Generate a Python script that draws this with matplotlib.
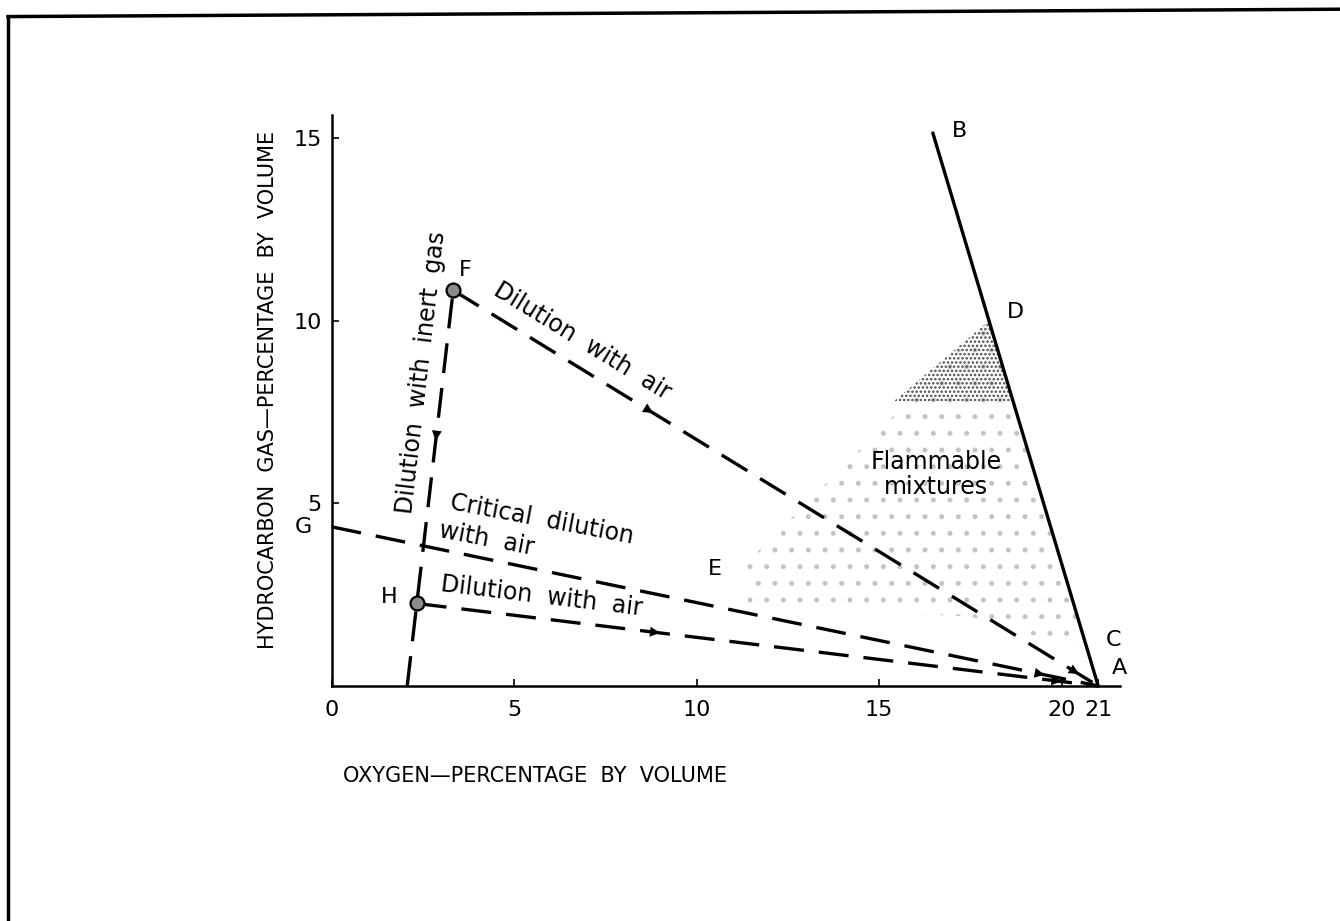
import numpy as np
import matplotlib
matplotlib.use("Agg")
import matplotlib.pyplot as plt
from matplotlib.patches import Polygon
from matplotlib.lines import Line2D

# points (oxygen %, hydrocarbon %)
pt_A = (21.0, 0.0)
pt_B = (16.47, 15.15)
pt_F = (3.33, 10.84)
pt_H = (2.33, 2.26)
pt_G = (0.0, 4.36)
inert_foot = (2.07, 0.0)

# flammable zone outline (D -> E -> C)
zone_x = [18.0, 11.3, 11.3, 17.5, 20.72]
zone_y = [10.0, 3.3, 2.2, 1.9, 0.95]
dense_x = [18.0, 15.4, 18.68]
dense_y = [10.0, 7.8, 7.8]

x_ticks = [0, 5, 10, 15, 20, 21]
y_ticks = [5, 10, 15]

# letter labels
letters = {"A": (21.37, 0.5), "B": (17.0, 15.2), "C": (21.2, 1.26), "D": (18.5, 10.25),
           "E": (10.5, 3.2), "F": (3.65, 11.4), "G": (-0.55, 4.36), "H": (1.8, 2.45)}

plt.rcParams['font.family'] = ['DejaVu Sans']
plt.rcParams['hatch.linewidth'] = 1.2
fig = plt.figure(figsize=(13.4, 9.21), dpi=100)
ax = fig.add_axes([0.2475, 0.2552, 0.5884, 0.6198])

def seg(p, q, t):
    return (p[0] + (q[0] - p[0]) * t, p[1] + (q[1] - p[1]) * t)

def arrow_on(p, q, t, dt=0.01):
    a = seg(p, q, t - dt)
    b = seg(p, q, t)
    ax.annotate('', xy=b, xytext=a,
                arrowprops=dict(arrowstyle='-|>', color='black', lw=0,
                                mutation_scale=18, shrinkA=0, shrinkB=0))

def angle(p, q):
    return np.degrees(np.arctan2(q[1] - p[1], q[0] - p[0]))

dash = dict(color='black', lw=2.4, dashes=(9, 4.5), clip_on=False)

# flammable region stipple
ax.add_patch(Polygon(np.column_stack([zone_x, zone_y]), closed=True, facecolor='none',
                     edgecolor='#c4c4c4', lw=0, hatch='.'))
ax.add_patch(Polygon(np.column_stack([dense_x, dense_y]), closed=True, facecolor='none',
                     edgecolor='#4a4a4a', lw=0, hatch='....'))

# air/hydrocarbon line
ax.plot([pt_B[0], pt_A[0]], [pt_B[1], pt_A[1]], color='black', lw=2.4, solid_capstyle='round', clip_on=False)

# dilution lines
ax.plot([pt_F[0], pt_A[0]], [pt_F[1], pt_A[1]], **dash)
ax.plot([pt_G[0], pt_A[0]], [pt_G[1], pt_A[1]], **dash)
ax.plot([pt_H[0], pt_A[0]], [pt_H[1], pt_A[1]], **dash)
ax.plot([inert_foot[0], pt_F[0]], [inert_foot[1], pt_F[1]], **dash)

arrow_on(pt_F, pt_A, 0.31)
arrow_on(pt_F, pt_A, 0.97)
arrow_on(pt_F, inert_foot, 0.38)
arrow_on(pt_H, pt_A, 0.357)
arrow_on(pt_H, pt_A, 0.946)
arrow_on(pt_G, pt_A, 0.93)

ax.plot([pt_F[0], pt_H[0]], [pt_F[1], pt_H[1]], ls='none', marker='o', ms=10,
        mfc='#8c8c8c', mec='black', mew=1.6, zorder=5)

txt = dict(fontsize=17, ha='center', va='center', rotation_mode='anchor')
ax.text(6.85, 9.45, "Dilution  with  air", rotation=angle(pt_F, pt_A), **txt)
ax.text(2.45, 8.6, "Dilution  with  inert  gas", rotation=angle(inert_foot, pt_F), **txt)
ax.text(5.75, 4.55, "Critical  dilution", rotation=angle(pt_G, pt_A) + 1, **txt)
ax.text(4.25, 4.02, "with  air", rotation=angle(pt_G, pt_A) + 1, **txt)
ax.text(5.75, 2.47, "Dilution  with  air", rotation=angle(pt_H, pt_A), **txt)
ax.text(16.55, 5.8, "Flammable\nmixtures", fontsize=17, ha='center', va='center', linespacing=1.05)

for name, (lx, ly) in letters.items():
    ax.text(lx, ly, name, fontsize=16, ha='right' if name in "GH" else 'left' if name in "ABCD" else 'center',
            va='center')

ax.set_xlim(0, 21.6)
ax.set_ylim(0, 15.64)
ax.set_xticks(x_ticks)
ax.set_yticks(y_ticks)
ax.tick_params(direction='in', length=5, width=1.2, labelsize=16, pad=10)
ax.tick_params(axis='y', pad=7)
for s in ['top', 'right']:
    ax.spines[s].set_visible(False)
for s in ['left', 'bottom']:
    ax.spines[s].set_linewidth(1.8)

fig.text(0.2, 0.577, "HYDROCARBON  GAS—PERCENTAGE  BY  VOLUME", rotation=90,
         ha='center', va='center', fontsize=15)
fig.text(0.256, 0.1574, "OXYGEN—PERCENTAGE  BY  VOLUME", ha='left', va='center', fontsize=15)

# scanned page frame
fig.add_artist(Line2D([0.006, 0.006], [0.0, 0.982], color='black', lw=2.5))
fig.add_artist(Line2D([0.006, 1.0], [0.982, 0.99], color='black', lw=2.5))

fig.savefig("out.png", dpi=100, facecolor='white')
